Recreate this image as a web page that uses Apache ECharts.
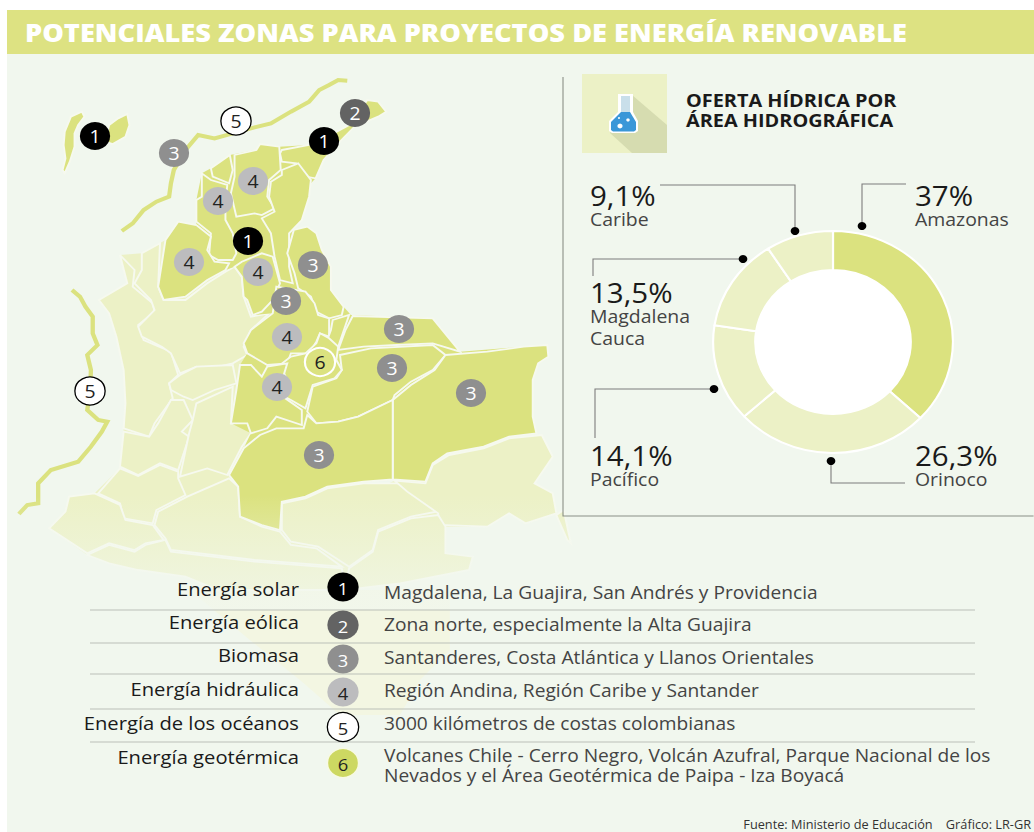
<!DOCTYPE html>
<html>
<head>
<meta charset="utf-8">
<script src="https://cdn.jsdelivr.net/npm/echarts@6/dist/echarts.min.js"></script>
<style>
  html, body { margin: 0; background: #fff; overflow: hidden; }
  #sheet { position: absolute; left: 7px; top: 10px; width: 1027px; height: 822px; background: #f1f7ee; }
  #banner { position: absolute; left: 7px; top: 10px; width: 1027px; height: 44px; background: #dde282; }
  /* el original esta estirado en horizontal, por eso el scaleX */
  #chart { position: absolute; left: 0; top: 0; width: 957.4px; height: 832px; transform: scaleX(1.08); transform-origin: 0 0; }
</style>
</head>
<body>
<div id="sheet"></div>
<div id="banner"></div>
<div id="chart"></div>
<script>
const stretch = 1.08

// oferta hidrica
const hydroAreas = ['Amazonas', 'Orinoco', 'Pacífico', 'Magdalena\nCauca', 'Caribe']
const hydroValues = [37, 26.3, 14.1, 13.5, 9.1]

// tabla de energias
const energyNames = ['Energía solar', 'Energía eólica', 'Biomasa', 'Energía hidráulica', 'Energía de los océanos', 'Energía geotérmica']
const energyPlaces = [
  'Magdalena, La Guajira, San Andrés y Providencia',
  'Zona norte, especialmente la Alta Guajira',
  'Santanderes, Costa Atlántica y Llanos Orientales',
  'Región Andina, Región Caribe y Santander',
  '3000 kilómetros de costas colombianas',
  'Volcanes Chile - Cerro Negro, Volcán Azufral, Parque Nacional de los\nNevados y el Área Geotérmica de Paipa - Iza Boyacá'
]
const energyMarkers = [
  [[95, 136], [324, 141], [248, 241]],
  [[355, 113]],
  [[174, 153], [313, 265], [286, 301], [399, 329], [392, 368], [471, 393], [319, 455]],
  [[253, 181], [218, 201], [189, 262], [258, 272], [287, 337], [277, 387]],
  [[236, 121], [90, 391]],
  [[320, 362]]
]
const energyColors = ['#000000', '#636363', '#8f8f8f', '#bcbcbe', '#ffffff', '#dbe27f']
const energyLabelColors = ['#ffffff', '#ffffff', '#ffffff', '#222222', '#222222', '#222222']

// contornos del mapa, trazados sobre el recorte ampliado
const tailShape = [[522,1560],[1237,1560],[1237,1740],[1155,1830],[1100,1935],[935,1935],[825,1830],[687,1710]]
const lightBack = [[330,555],[390,550],[455,510],[645,590],[750,730],[670,1135],[630,1215],[775,1385],[1085,1232],[1490,1095],[1520,1160],[1470,1240],[1520,1270],[1530,1330],[1445,1360],[1400,1330],[1340,1370],[1225,1370],[1225,1450],[1300,1460],[1290,1500],[1100,1540],[950,1560],[600,1560],[510,1520],[380,1500],[300,1480],[240,1455],[135,1375],[180,1325],[190,1280],[260,1270],[330,1195],[340,1075],[345,1000],[340,900],[320,800],[300,730],[272,690],[350,640],[365,600]]
const darkBack = [[580,295],[632,255],[705,240],[715,222],[768,230],[850,225],[900,200],[960,165],[1010,90],[1040,95],[1062,125],[1040,140],[975,170],[935,215],[890,270],[868,325],[855,340],[850,380],[830,450],[800,485],[808,480],[845,470],[870,490],[885,540],[910,590],[910,660],[945,710],[965,735],[1190,745],[1265,845],[1505,825],[1508,860],[1480,880],[1465,930],[1465,1040],[1475,1090],[1400,1100],[1330,1130],[1230,1150],[1190,1180],[1170,1235],[1085,1228],[1000,1235],[900,1250],[840,1280],[775,1295],[770,1380],[720,1365],[660,1340],[655,1250],[630,1215],[670,1135],[690,1090],[635,1060],[650,960],[660,885],[680,850],[670,820],[690,780],[750,730],[695,735],[680,690],[665,620],[645,590],[620,600],[570,630],[510,680],[450,690],[435,650],[455,510],[490,455],[540,465],[540,390],[555,310]]
const darkZones = [
  [[225,125],[232,140],[215,165],[205,190],[205,230],[192,275],[178,310],[172,300],[180,265],[175,225],[178,185],[195,140]],
  [[300,165],[325,145],[350,132],[356,165],[345,200],[310,222],[290,215]],
  [[775,240],[850,225],[900,200],[960,165],[1010,90],[1040,95],[1062,125],[1040,140],[975,170],[935,215],[890,270],[868,325],[840,320],[815,280],[775,275],[770,250]],
  [[580,295],[632,255],[640,300],[630,340],[585,320]],
  [[645,255],[705,240],[715,222],[768,230],[772,300],[740,330],[735,380],[755,415],[720,435],[700,430],[650,440],[635,370],[645,320]],
  [[775,300],[820,280],[855,330],[850,380],[830,450],[795,490],[795,590],[805,640],[770,630],[755,560],[745,490],[720,445],[755,425],[740,380],[745,335],[775,315]],
  [[555,310],[580,330],[625,345],[620,400],[620,450],[640,490],[650,550],[640,570],[600,570],[575,555],[580,490],[540,455],[540,390],[555,380]],
  [[808,480],[845,470],[870,490],[885,540],[910,590],[910,660],[945,710],[940,735],[905,745],[870,725],[855,680],[820,655],[810,610],[790,550]],
  [[455,510],[490,455],[540,465],[580,500],[570,540],[590,575],[630,580],[620,600],[570,630],[510,680],[450,690],[435,650]],
  [[645,590],[665,575],[720,550],[750,560],[770,640],[750,690],[720,725],[695,735],[680,690],[670,680],[665,620]],
  [[760,650],[840,665],[865,700],[875,735],[905,745],[905,800],[880,790],[870,815],[850,850],[800,850],[790,880],[735,885],[680,850],[670,820],[690,780],[750,730]],
  [[915,750],[960,735],[930,830],[900,810],[910,780]],
  [[970,738],[1190,745],[1265,845],[1190,820],[1090,825],[1000,830],[930,840],[950,780]],
  [[935,855],[1020,835],[1190,825],[1225,855],[1190,900],[1130,935],[1085,975],[1080,990],[985,1040],[930,1055],[870,1060],[845,1025],[860,950],[925,925],[940,900]],
  [[1225,855],[1340,845],[1440,830],[1505,825],[1508,860],[1480,880],[1465,930],[1465,1040],[1475,1090],[1400,1100],[1330,1130],[1230,1150],[1190,1180],[1170,1235],[1080,1228],[1080,990],[1130,945],[1195,900]],
  [[1080,990],[1080,1228],[1000,1235],[900,1250],[840,1280],[775,1295],[770,1380],[720,1365],[660,1340],[655,1250],[630,1215],[670,1135],[715,1095],[760,1075],[835,1075],[845,1035],[870,1060],[930,1055],[985,1040]],
  [[800,860],[840,850],[870,820],[880,790],[905,805],[930,830],[925,870],[940,900],[920,925],[860,945],[840,1015],[800,990],[765,970],[790,930],[770,885]],
  [[660,885],[690,885],[720,920],[735,890],[790,880],[765,970],[830,1020],[830,1065],[760,1040],[735,1075],[690,1090],[680,1060],[635,1060],[650,960]]
]
const lightZones = [
  [[330,555],[370,600],[365,650],[420,700],[425,725],[380,765],[395,810],[470,845],[490,915],[465,940],[475,985],[425,1060],[410,1100],[340,1075],[345,1000],[340,900],[320,800],[300,730],[272,690],[350,640]],
  [[390,550],[440,520],[435,650],[450,690],[510,690],[570,640],[620,605],[645,590],[665,620],[670,680],[690,740],[740,730],[690,780],[670,830],[680,855],[640,880],[560,900],[540,890],[495,910],[470,850],[445,830],[390,800],[380,770],[425,720],[415,690],[370,640],[390,600]],
  [[495,915],[540,890],[640,885],[650,940],[590,960],[530,990],[505,980],[470,960],[465,940]],
  [[470,990],[505,990],[530,1050],[500,1085],[520,1100],[490,1200],[440,1180],[380,1215],[330,1190],[340,1085],[410,1100],[435,1060]],
  [[540,1000],[640,950],[635,1060],[680,1065],[690,1090],[665,1130],[625,1215],[570,1195],[495,1220],[520,1090],[530,1050]],
  [[330,1195],[380,1218],[440,1185],[490,1205],[490,1225],[510,1275],[430,1320],[420,1360],[340,1345],[330,1300],[270,1270]],
  [[260,1270],[330,1305],[345,1350],[420,1365],[450,1410],[400,1420],[370,1440],[300,1420],[240,1450],[135,1375],[180,1325],[190,1280]],
  [[515,1280],[630,1225],[655,1250],[660,1340],[720,1370],[770,1385],[800,1425],[870,1435],[940,1490],[700,1470],[470,1440],[455,1405],[425,1365],[435,1325]],
  [[775,1300],[840,1285],[900,1255],[1000,1240],[1120,1240],[1200,1325],[1130,1340],[1040,1380],[1025,1440],[960,1490],[875,1430],[800,1415],[775,1380]],
  [[1085,1232],[1170,1240],[1190,1185],[1235,1155],[1330,1135],[1400,1105],[1490,1095],[1520,1160],[1470,1240],[1520,1270],[1530,1330],[1445,1360],[1400,1330],[1340,1370],[1205,1365],[1205,1330],[1120,1265]],
  [[1040,1385],[1130,1345],[1205,1335],[1225,1370],[1225,1450],[1300,1460],[1290,1500],[1100,1540],[950,1560],[960,1495],[1025,1445]],
  [[240,1455],[300,1425],[370,1445],[400,1425],[455,1410],[470,1445],[700,1475],[940,1495],[950,1560],[600,1560],[510,1520],[380,1500],[300,1480]],
  [[1530,1335],[1550,1320],[1570,1420],[1560,1410]]
]
const coastLines = [
  [[335,483],[365,460],[395,420],[430,395],[465,380],[470,340],[478,300],[510,240],[545,195],[590,205],[640,190],[700,172],[745,160],[800,125],[850,95],[878,60],[905,45],[930,30],[955,32]],
  [[198,660],[220,680],[235,710],[255,740],[255,790],[268,825],[240,855],[250,900],[248,960],[240,1020],[270,1050],[295,1055],[280,1085],[250,1130],[215,1175],[140,1200],[105,1240],[105,1300],[75,1305],[52,1332]]
]

const FONT = '"Open Sans", "Noto Sans", sans-serif'

// px reales -> unidades del chart
const ux = x => x / stretch
const fromTrace = p => [p[0] / 2.75 / stretch, p[1] / 3 + 70]

const features = []
const regions = []
function addZone(name, ring, itemStyle) {
  const pts = ring.map(fromTrace)
  pts.push(pts[0])
  features.push({type: 'Feature', properties: {name}, geometry: {type: 'Polygon', coordinates: [pts]}})
  regions.push({name, itemStyle})
}
// primero los fondos sin borde para que no queden huecos entre zonas
addZone('tail', tailShape, {areaColor: '#f3f6e2', borderWidth: 0})
addZone('lightBack', lightBack, {areaColor: '#ecf1c6', borderWidth: 0})
lightZones.forEach((z, i) => addZone('L' + i, z, {areaColor: '#ecf1c6'}))
addZone('darkBack', darkBack, {areaColor: '#dbe27f', borderWidth: 0})
darkZones.forEach((z, i) => addZone('D' + i, z, {areaColor: '#dbe27f'}))
echarts.registerMap('colombia', {type: 'FeatureCollection', features})

// todo lo que no es dato: textos, lineas y el icono
const graphics = []

function addText(text, x, y, size, fill, align, weight) {
  graphics.push({
    type: 'text', z: 100, silent: true,
    style: {text, x: ux(x), y, fill, align: align || 'left', verticalAlign: 'middle', font: (weight || 'normal') + ' ' + size + 'px ' + FONT, lineHeight: text.includes('\n') ? 20 : size}
  })
}
function addLine(points, color) {
  graphics.push({
    type: 'polyline', z: 100, silent: true,
    shape: {points: points.map(p => [ux(p[0]), p[1]])},
    style: {stroke: color || '#7c7c7c', lineWidth: 1, fill: null}
  })
}
function addDot(x, y) {
  graphics.push({type: 'circle', z: 100, silent: true, shape: {cx: ux(x), cy: y, r: 4}, style: {fill: '#000'}})
}
function addPoly(points, fill, stroke) {
  graphics.push({
    type: 'polygon', z: 100, silent: true,
    shape: {points: points.map(p => [ux(p[0]), p[1]])},
    style: {fill, stroke: stroke || null, lineWidth: 1.5}
  })
}

addText('POTENCIALES ZONAS PARA PROYECTOS DE ENERGÍA RENOVABLE', 25, 32, 25.2, '#ffffff', 'left', '800')

// degradado del mapa hacia la tabla
graphics.push({
  type: 'rect', z: 50, silent: true,
  shape: {x: ux(7), y: 495, width: ux(600), height: 115},
  style: {fill: new echarts.graphic.LinearGradient(0, 0, 0, 1, [
    {offset: 0, color: 'rgba(241,247,238,0)'},
    {offset: 1, color: 'rgba(241,247,238,0.75)'}
  ])}
})

// marco del panel
addLine([[563, 77], [563, 516], [1034, 516]], '#8a8f86')

// icono
addPoly([[582, 74], [667, 74], [667, 153], [582, 153]], '#ecf1c6')
addPoly([[632, 95], [667, 125], [667, 153], [632, 153], [610, 133]], '#d6dcb0')
addPoly([[618, 94], [633, 94], [633, 112], [638, 121], [638, 131], [635, 133], [612, 133], [609, 131], [609, 121], [618, 112]], '#ffffff')
addPoly([[621, 96], [630, 96], [630, 112], [621, 112]], '#c9dfea')
addPoly([[621, 112], [630, 112], [636, 122], [636, 130], [634, 131.5], [613, 131.5], [611, 130], [611, 122]], '#3a97d8')
graphics.push({type: 'circle', z: 101, silent: true, shape: {cx: ux(620), cy: 126, r: 2.4}, style: {fill: '#fff'}})
graphics.push({type: 'circle', z: 101, silent: true, shape: {cx: ux(628), cy: 120, r: 1.6}, style: {fill: '#fff'}})
graphics.push({type: 'circle', z: 101, silent: true, shape: {cx: ux(619), cy: 118, r: 1}, style: {fill: '#fff'}})
addText('OFERTA HÍDRICA POR', 686, 100, 18.4, '#1a1a1a', 'left', 'bold')
addText('ÁREA HIDROGRÁFICA', 686, 120, 18.4, '#1a1a1a', 'left', 'bold')

// hueco blanco de la dona
graphics.push({type: 'circle', z: 1, silent: true, shape: {cx: ux(833), cy: 342, r: 73}, style: {fill: '#ffffff'}})

// etiquetas de la dona, mismo orden que hydroValues
const labelPos = [[915, 195], [915, 455], [590, 455], [590, 292], [590, 195]]
hydroValues.forEach((v, i) => {
  const p = labelPos[i]
  addText(String(v).replace('.', ',') + '%', p[0], p[1], 27.3, '#1a1a1a')
  hydroAreas[i].split('\n').forEach((t, k) => addText(t, p[0], p[1] + 24 + k * 22, 18, '#444444'))
})
addLine([[906, 184], [862, 184], [862, 226]])
addDot(862, 226)
addLine([[905, 483], [831, 483], [831, 461]])
addDot(831, 461)
addLine([[595, 438], [595, 389], [714, 389]])
addDot(714, 389)
addLine([[593, 276], [593, 259], [743, 259]])
addDot(743, 259)
addLine([[660, 185], [795, 185], [795, 231]])
addDot(795, 231)

// tabla inferior
const rowY = [589, 622, 655, 689, 723, 757]
const circleY = [587, 625, 659, 692, 727, 763]
const placeY = [592, 624, 657, 690, 723, 765]
const dividerY = [610, 643, 674, 709, 742]
dividerY.forEach(y => addLine([[90, y], [975, y]], '#bcbfb8'))
energyNames.forEach((name, i) => {
  addText(name, 299, rowY[i], 18.7, '#1a1a1a', 'right')
  addText(energyPlaces[i], 384, placeY[i], 17.75, '#444444')
  graphics.push({
    type: 'circle', z: 100, silent: true,
    shape: {cx: ux(343), cy: circleY[i], r: 14.5},
    style: {
      fill: i === 5 ? '#cdd862' : energyColors[i],
      stroke: i === 4 ? '#000' : (i === 5 ? '#f7f9e4' : null),
      lineWidth: i === 4 ? 1.2 : 1.5
    }
  })
  graphics.push({
    type: 'text', z: 101, silent: true,
    style: {text: String(i + 1), x: ux(343), y: circleY[i] + 1, align: 'center', verticalAlign: 'middle', fill: energyLabelColors[i], font: '17px ' + FONT}
  })
})
addText('Fuente: Ministerio de Educación    Gráfico: LR-GR', 1031, 825, 11.8, '#333333', 'right')

const markerSeries = energyMarkers.map((pts, i) => ({
  name: energyNames[i],
  type: 'scatter',
  coordinateSystem: 'geo',
  silent: true,
  z: 5,
  symbolSize: 28,
  data: pts.map(p => [ux(p[0]), p[1]]),
  itemStyle: {
    color: energyColors[i],
    borderColor: i === 4 ? '#000000' : (i === 5 ? '#ffffff' : 'transparent'),
    borderWidth: i === 4 ? 1.2 : (i === 5 ? 2 : 0),
    opacity: 1
  },
  label: {
    show: true,
    position: 'inside',
    formatter: String(i + 1),
    color: energyLabelColors[i],
    fontFamily: FONT,
    fontSize: 18
  }
}))

const chart = echarts.init(document.getElementById('chart'), null, {renderer: 'svg'})
chart.setOption({
  animation: false,
  geo: {
    map: 'colombia',
    silent: true,
    roam: false,
    aspectScale: 1,
    projection: {project: p => [p[0], p[1]], unproject: p => [p[0], p[1]]},
    boundingCoords: [[0, 0], [957.4, 832]],
    left: 0, top: 0, width: 957.4, height: 832,
    label: {show: false},
    itemStyle: {areaColor: '#ecf1c6', borderColor: '#f6f9ef', borderWidth: 1.8},
    regions
  },
  graphic: {elements: graphics},
  series: [
    {
      type: 'lines',
      coordinateSystem: 'geo',
      polyline: true,
      silent: true,
      z: 3,
      lineStyle: {color: '#dbe27f', width: 4, opacity: 1, curveness: 0},
      data: coastLines.map(line => ({coords: line.map(fromTrace)}))
    },
    ...markerSeries,
    {
      name: 'Oferta hídrica',
      type: 'pie',
      silent: true,
      z: 4,
      center: [ux(833), 342],
      radius: [72, 111],
      startAngle: 90,
      clockwise: true,
      label: {show: false},
      labelLine: {show: false},
      itemStyle: {borderColor: '#ffffff', borderWidth: 2},
      data: hydroAreas.map((name, i) => ({
        name,
        value: hydroValues[i],
        itemStyle: {color: i === 0 ? '#dbe27f' : '#ecf1c6'}
      }))
    }
  ]
})
</script>
</body>
</html>
